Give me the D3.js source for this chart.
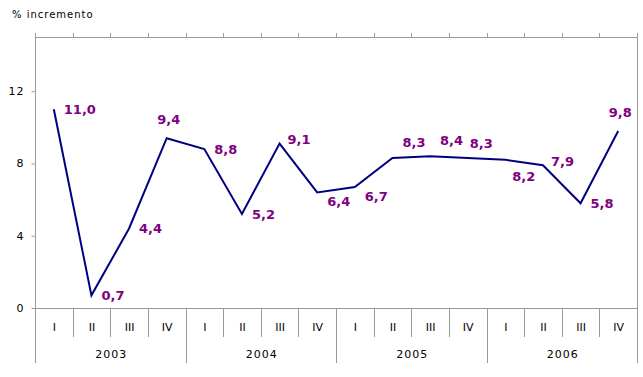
<!DOCTYPE html>
<html>
<head>
<meta charset="utf-8">
<script src="https://cdn.jsdelivr.net/npm/d3@7"></script>
<style>
  html, body { margin: 0; padding: 0; background: #fff; }
  svg { display: block; }
  text { font-family: "DejaVu Sans", Verdana, sans-serif; }
</style>
</head>
<body>
<svg id="chart" width="643" height="377"></svg>
<script>
// ---- data ----
const quarters = ["I","II","III","IV","I","II","III","IV","I","II","III","IV","I","II","III","IV"];
const years = ["2003","2004","2005","2006"];
const values = [11.0, 0.7, 4.4, 9.4, 8.8, 5.2, 9.1, 6.4, 6.7, 8.3, 8.4, 8.3, 8.2, 7.9, 5.8, 9.8];
const yTicks = [0, 4, 8, 12];
const yTitle = "% incremento";
// label placement codes (style)
const labelPlace = ["r","r","r","a","r","r","ru","rd","rd","ar","ar","au","br","ru","r","a"];

(function () {
// ---- layout ----
const svg = d3.select("#chart");
const pLeft = 35, pRight = 637, pTop = 37, pBottom = 308;
const gray = "#999999";

const x = d3.scaleBand().domain(d3.range(values.length)).range([pLeft, pRight]).paddingInner(0).paddingOuter(0);
const y = d3.scaleLinear().domain([0, 15]).range([pBottom, pTop]);
const bw = x.bandwidth();

// plot frame: top line and right line
svg.append("line").attr("x1", pLeft).attr("x2", pRight).attr("y1", pTop + 0.5).attr("y2", pTop + 0.5)
  .attr("stroke", gray).attr("stroke-width", 1);
svg.append("line").attr("x1", pRight + 0.5).attr("x2", pRight + 0.5).attr("y1", pTop - 4).attr("y2", 363)
  .attr("stroke", gray).attr("stroke-width", 1);

// top ticks at category boundaries
svg.append("g").selectAll("line").data(d3.range(values.length)).join("line")
  .attr("x1", i => Math.round(x(i)) + 0.5).attr("x2", i => Math.round(x(i)) + 0.5)
  .attr("y1", pTop - 4).attr("y2", pTop)
  .attr("stroke", gray);

// y axis
const yAxis = d3.axisLeft(y).tickValues(yTicks).tickSize(4).tickPadding(7).tickFormat(d3.format("d"));
const gy = svg.append("g").attr("transform", `translate(${pLeft + 0.5},0)`).call(yAxis);
gy.select(".domain").attr("d", `M0,${pTop - 4}V363`).attr("stroke", gray);
gy.selectAll(".tick line").attr("stroke", gray);
gy.selectAll(".tick text").attr("font-size", 11).attr("letter-spacing", 1)
  .attr("font-family", "DejaVu Sans, sans-serif").attr("fill", "#000");

// x baseline
svg.append("line").attr("x1", pLeft).attr("x2", pRight).attr("y1", pBottom + 0.5).attr("y2", pBottom + 0.5)
  .attr("stroke", gray);

// quarter separators
svg.append("g").selectAll("line").data(d3.range(1, values.length)).join("line")
  .attr("x1", i => Math.round(x(i)) + 0.5).attr("x2", i => Math.round(x(i)) + 0.5)
  .attr("y1", pBottom).attr("y2", i => (i % 4 === 0) ? 363 : 337)
  .attr("stroke", gray);

// quarter labels
svg.append("g").selectAll("text").data(quarters).join("text")
  .attr("x", (d, i) => x(i) + bw / 2 + 0.5).attr("y", 331)
  .attr("text-anchor", "middle")
  .attr("font-family", "DejaVu Sans Mono, monospace")
  .attr("font-size", 11).attr("fill", "#000")
  .text(d => d);

// year labels
svg.append("g").selectAll("text").data(years).join("text")
  .attr("x", (d, i) => x(i * 4) + bw * 2 + 1).attr("y", 358)
  .attr("text-anchor", "middle")
  .attr("font-size", 11).attr("letter-spacing", 1).attr("fill", "#000")
  .text(d => d);

// title
svg.append("text").attr("x", 12).attr("y", 18).attr("font-size", 10).attr("letter-spacing", 1)
  .attr("fill", "#000").text(yTitle);

// line
const line = d3.line().x((d, i) => x(i) + bw / 2).y(d => y(d));
svg.append("path").datum(values).attr("d", line)
  .attr("fill", "none").attr("stroke", "#000080").attr("stroke-width", 2)
  .attr("stroke-linejoin", "miter");

// labels
const place = {
  r:  { dx: 10, dy: 0, anchor: "start" },
  ru: { dx: 8, dy: -4, anchor: "start" },
  rd: { dx: 10, dy: 9, anchor: "start" },
  ar: { dx: 10, dy: -16, anchor: "start" },
  au: { dx: 2, dy: -15, anchor: "start" },
  br: { dx: 7, dy: 16, anchor: "start" },
  a:  { dx: 2, dy: -19, anchor: "middle" }
};
const fmt = v => d3.format(".1f")(v).replace(".", ",");
svg.append("g").selectAll("text").data(values).join("text")
  .attr("x", (d, i) => x(i) + bw / 2 + place[labelPlace[i]].dx)
  .attr("y", (d, i) => y(d) + place[labelPlace[i]].dy)
  .attr("dy", "0.36em")
  .attr("text-anchor", (d, i) => place[labelPlace[i]].anchor)
  .attr("font-size", 13).attr("font-weight", "bold")
  .attr("fill", "#800080")
  .text(d => fmt(d));
})();
</script>
</body>
</html>
